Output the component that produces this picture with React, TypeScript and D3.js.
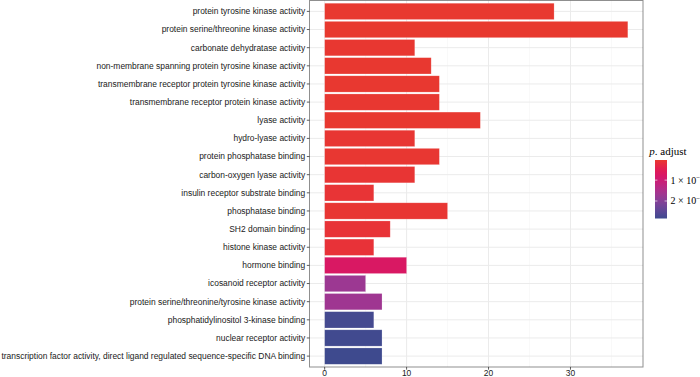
import React from "react";
import * as d3 from "d3";

const categories = [
  "protein tyrosine kinase activity",
  "protein serine/threonine kinase activity",
  "carbonate dehydratase activity",
  "non-membrane spanning protein tyrosine kinase activity",
  "transmembrane receptor protein tyrosine kinase activity",
  "transmembrane receptor protein kinase activity",
  "lyase activity",
  "hydro-lyase activity",
  "protein phosphatase binding",
  "carbon-oxygen lyase activity",
  "insulin receptor substrate binding",
  "phosphatase binding",
  "SH2 domain binding",
  "histone kinase activity",
  "hormone binding",
  "icosanoid receptor activity",
  "protein serine/threonine/tyrosine kinase activity",
  "phosphatidylinositol 3-kinase binding",
  "nuclear receptor activity",
  "transcription factor activity, direct ligand regulated sequence-specific DNA binding",
];
const counts = [28, 37, 11, 13, 14, 14, 19, 11, 14, 11, 6, 15, 8, 6, 10, 5, 7, 6, 7, 7];
const pAdjust = [
  4e-7, 3.4e-7, 6e-7, 5e-7, 5e-7, 6e-7, 5e-7, 8e-7, 7e-7, 9e-7,
  1.1e-6, 8e-7, 1.2e-6, 1.4e-6, 7.2e-6, 1.72e-5, 1.68e-5, 2.76e-5, 2.8e-5, 2.84e-5,
];
const xTicks = [0, 10, 20, 30];
const legendTicks = [1e-5, 2e-5];
const legendTickLabels = ["1 × 10", "2 × 10"];

const W = 700;
const H = 377;
const panel = { left: 309.5, right: 643, top: 0.5, bottom: 367 };

export default function App() {
  const xMax = d3.max(counts) as number;
  const pad = xMax * 0.05;
  const x = d3.scaleLinear().domain([-pad, xMax + pad]).range([panel.left, panel.right]);
  const y = d3
    .scaleBand()
    .domain(categories)
    .range([panel.top, panel.bottom])
    .paddingInner(0.1)
    .paddingOuter(0.15);
  const pMin = d3.min(pAdjust) as number;
  const pMax = d3.max(pAdjust) as number;
  const color = d3
    .scaleLinear<string>()
    .domain([pMin, pMax])
    .range(["#E8392F", "#3E4A8E"])
    .interpolate(d3.interpolateHcl);
  const minorTicks = [5, 15, 25, 35];
  const legend = { x: 655, top: 160, bottom: 218.5, w: 12 };
  const ly = d3.scaleLinear().domain([pMin, pMax]).range([legend.top, legend.bottom]);
  const stops = d3.range(0, 1.0001, 0.05);
  const font = "'Liberation Sans', Arial, sans-serif";
  const serif = "'Liberation Serif', 'Times New Roman', serif";

  return (
    <svg width={W} height={H} style={{ position: "absolute", left: 0, top: 0, background: "#fff" }}>
      <defs>
        <linearGradient id="pgrad" x1="0" y1="0" x2="0" y2="1">
          {stops.map((s) => (
            <stop key={s} offset={s} stopColor={color(pMin + s * (pMax - pMin))} />
          ))}
        </linearGradient>
      </defs>
      {/* grid */}
      {minorTicks.map((t) => (
        <line key={"mn" + t} x1={x(t)} x2={x(t)} y1={panel.top} y2={panel.bottom} stroke="#F2F2F2" strokeWidth={0.5} />
      ))}
      {xTicks.map((t) => (
        <line key={"mj" + t} x1={x(t)} x2={x(t)} y1={panel.top} y2={panel.bottom} stroke="#EBEBEB" strokeWidth={1} />
      ))}
      {categories.map((c) => (
        <line
          key={"gy" + c}
          x1={panel.left}
          x2={panel.right}
          y1={(y(c) as number) + y.bandwidth() / 2}
          y2={(y(c) as number) + y.bandwidth() / 2}
          stroke="#EBEBEB"
          strokeWidth={1}
        />
      ))}
      {/* bars */}
      {categories.map((c, i) => (
        <rect
          key={"b" + c}
          x={x(0)}
          y={y(c) as number}
          width={x(counts[i]) - x(0)}
          height={y.bandwidth()}
          fill={color(pAdjust[i])}
          stroke="#ffffff"
          strokeOpacity={0.35}
          strokeWidth={0.6}
        />
      ))}
      <rect
        x={panel.left}
        y={panel.top}
        width={panel.right - panel.left}
        height={panel.bottom - panel.top}
        fill="none"
        stroke="#333333"
        strokeOpacity={0.55}
        strokeWidth={1}
      />
      {/* y axis */}
      {categories.map((c) => {
        const cy = (y(c) as number) + y.bandwidth() / 2;
        return (
          <g key={"yl" + c}>
            <line x1={panel.left - 2.7} x2={panel.left} y1={cy} y2={cy} stroke="#333" strokeWidth={0.8} />
            <text
              x={panel.left - 4.3}
              y={cy}
              dy="0.35em"
              textAnchor="end"
              fontFamily={font}
              fontSize={8.45}
              fill="#1a1a1a"
            >
              {c}
            </text>
          </g>
        );
      })}
      {/* x axis */}
      {xTicks.map((t) => (
        <g key={"xt" + t}>
          <line x1={x(t)} x2={x(t)} y1={panel.bottom} y2={panel.bottom + 2.7} stroke="#333" strokeWidth={0.8} />
          <text x={x(t)} y={376.3} textAnchor="middle" fontFamily={font} fontSize={8.45} fill="#1a1a1a">
            {t}
          </text>
        </g>
      ))}
      {/* legend */}
      <text x={649.3} y={155} fontFamily={serif} fontSize={11} fill="#000">
        <tspan fontStyle="italic">p</tspan>
        <tspan>. adjust</tspan>
      </text>
      <rect x={legend.x} y={legend.top} width={legend.w} height={legend.bottom - legend.top} fill="url(#pgrad)" />
      {legendTicks.map((t, i) => (
        <g key={"lt" + t}>
          <line x1={legend.x} x2={legend.x + 2.4} y1={ly(t)} y2={ly(t)} stroke="#fff" strokeOpacity={0.8} strokeWidth={0.8} />
          <line x1={legend.x + legend.w - 2.4} x2={legend.x + legend.w} y1={ly(t)} y2={ly(t)} stroke="#fff" strokeOpacity={0.8} strokeWidth={0.8} />
          <text x={670.5} y={ly(t)} dy="0.35em" fontFamily={serif} fontSize={10} fill="#000">
            {legendTickLabels[i]}
            <tspan dy="-0.45em" fontSize={7}>
              −5
            </tspan>
          </text>
        </g>
      ))}
    </svg>
  );
}
